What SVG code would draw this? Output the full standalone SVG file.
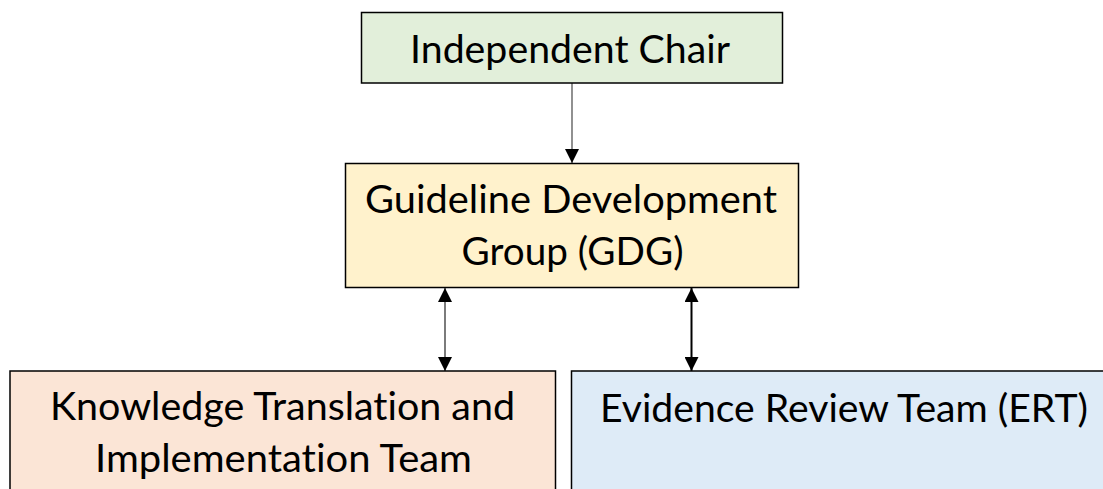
<svg xmlns="http://www.w3.org/2000/svg" width="1103" height="489" viewBox="0 0 1103 489">
  <style>
    .box { stroke: #000; stroke-width: 1.5; }
    .lbl { font-family: Lato, "Open Sans", sans-serif; font-size: 39px; fill: #000; text-anchor: middle; font-variant-ligatures: none; font-feature-settings: "liga" 0, "clig" 0; }
    .conn { fill: none; }
  </style>
  <defs>
    <marker id="ah" markerUnits="userSpaceOnUse" markerWidth="14" markerHeight="14" refX="14" refY="7" orient="auto-start-reverse" viewBox="0 0 14 14">
      <path d="M0,0 L14,7 L0,14 z" fill="#000"/>
    </marker>
  </defs>
  <rect width="1103" height="489" fill="#fff"/>

  <g id="connectors">
    <line class="conn" x1="572" y1="83" x2="572" y2="163" stroke="#555" stroke-width="1.3" marker-end="url(#ah)"/>
    <line class="conn" x1="445" y1="288" x2="445" y2="371" stroke="#444" stroke-width="1.4" marker-start="url(#ah)" marker-end="url(#ah)"/>
    <line class="conn" x1="691.5" y1="288" x2="691.5" y2="371" stroke="#000" stroke-width="2" marker-start="url(#ah)" marker-end="url(#ah)"/>
  </g>

  <g id="independent-chair">
    <rect class="box" x="361.5" y="12.5" width="421" height="70.5" fill="#E2EFDA"/>
    <text class="lbl" x="570" y="63" textLength="320" lengthAdjust="spacingAndGlyphs">Independent Chair</text>
  </g>

  <g id="gdg">
    <rect class="box" x="345.5" y="163.5" width="453" height="124" fill="#FFF2CC"/>
    <text class="lbl" x="571" y="213" textLength="412" lengthAdjust="spacingAndGlyphs">Guideline Development</text>
    <text class="lbl" x="572.5" y="265" textLength="222" lengthAdjust="spacingAndGlyphs">Group (GDG)</text>
  </g>

  <g id="ktit">
    <rect class="box" x="10" y="371" width="545.5" height="130" fill="#FBE5D6"/>
    <text class="lbl" x="282.5" y="420" textLength="465" lengthAdjust="spacingAndGlyphs">Knowledge Translation and</text>
    <text class="lbl" x="283.5" y="472" textLength="377" lengthAdjust="spacingAndGlyphs">Implementation Team</text>
  </g>

  <g id="ert">
    <rect class="box" x="571.5" y="371" width="560" height="130" fill="#DEEBF7"/>
    <text class="lbl" x="844" y="421.5" textLength="488" lengthAdjust="spacingAndGlyphs">Evidence Review Team (ERT)</text>
  </g>
</svg>
